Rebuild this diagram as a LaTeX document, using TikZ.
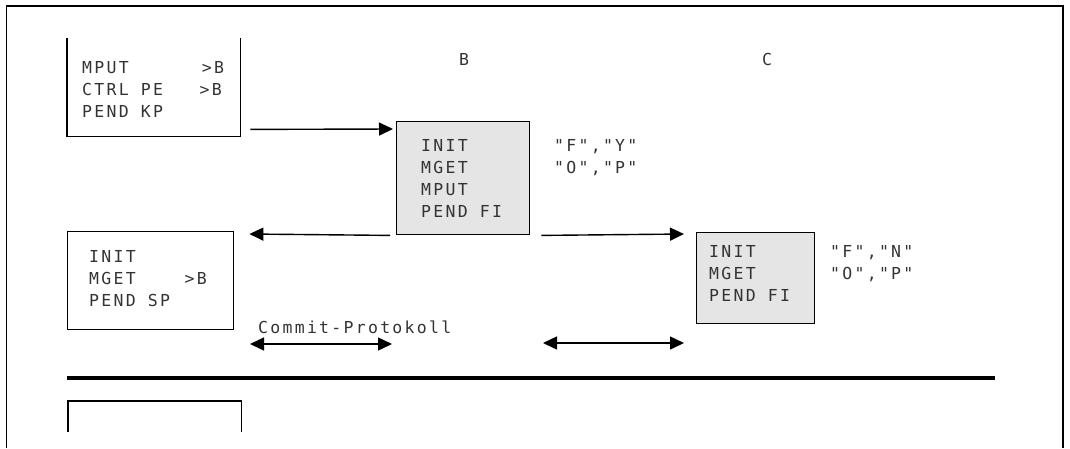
\documentclass[tikz,border=0pt]{standalone}
\usepackage{fontspec}
\usetikzlibrary{arrows.meta}
\newfontfamily\gothic{DejaVu Sans Mono}[LetterSpace=13.8]
% one character cell of the listing font
\newcommand\gap[1]{\hspace*{#1\dimexpr12.2pt\relax}}
\tikzset{
  frame/.style={line width=1.8pt},
  box/.style={draw, line width=1.4pt, inner sep=0pt, anchor=north west},
  openbox/.style={inner sep=0pt, anchor=north west},
  gbox/.style={box, fill=black!10},
  code/.style={inner sep=0pt, anchor=north west, align=left, text=black!80,
    font=\gothic\fontsize{16.5}{22}\selectfont},
  msg/.style={-{Triangle[length=14pt,width=13pt]}, line width=1.4pt},
  twoway/.style={{Triangle[length=14pt,width=13pt]}-{Triangle[length=14pt,width=13pt]}, line width=1.4pt}
}
\begin{document}
\begin{tikzpicture}[x=1pt,y=-1pt]
  \useasboundingbox (0,0) rectangle (1070,448);
  \draw[frame] (6.5,448) -- (6.5,6) -- (1063,6) -- (1063,448);
  % partners
  \node[code, anchor=base west] (labB) at (459,65) {B};
  \node[code, anchor=base west] (labC) at (762,65) {C};
  % program A, first step
  \node[openbox, minimum width=173, minimum height=98] (stepA) at (67,38) {};
  \draw[line width=1.4pt] (stepA.north west) |- (stepA.south east) -- (stepA.north east);
  \node[code] (txtA) at (82,61) {MPUT\gap{6}>B\\CTRL PE\gap{3}>B\\PEND KP};
  % program B
  \node[gbox, minimum width=133, minimum height=113] (procB) at (396,121) {};
  \node[code] (txtB) at (421,139) {INIT\\MGET\\MPUT\\PEND FI};
  \node[code] (infoB) at (554,139) {"F","Y"\\"O","P"};
  % program C
  \node[gbox, minimum width=118, minimum height=91] (procC) at (696,232) {};
  \node[code] (txtC) at (709,245) {INIT\\MGET\\PEND FI};
  \node[code] (infoC) at (830,245) {"F","N"\\"O","P"};
  % program A, second step
  \node[box, minimum width=166, minimum height=98] (stepA2) at (67,231) {};
  \node[code] (txtA2) at (89,250) {INIT\\MGET\gap{4}>B\\PEND SP};
  % program A, next step
  \node[openbox, minimum width=173, minimum height=31] (stepA3) at (68,401) {};
  \draw[line width=1.4pt] (stepA3.south west) |- (stepA3.north east) -- (stepA3.south east);
  % messages
  \draw[msg] ([shift={(10,-7)}]stepA.south east) -- ([shift={(-3,8)}]procB.north west);
  \draw[msg] ([xshift=-6]procB.south west) -- ([shift={(15,3)}]stepA2.north east);
  \draw[msg] ([xshift=11]procB.south east) -- ([shift={(-12,2)}]procC.north west);
  % commit protocol
  \node[code, anchor=base west] (commit) at (258,333) {Commit-Protokoll};
  \coordinate (c1) at (250,344); \coordinate (c2) at (392,344);
  \coordinate (c3) at (543,343); \coordinate (c4) at (684,343);
  \draw[twoway] (c1) -- (c2);
  \draw[twoway] (c3) -- (c4);
  \coordinate (s1) at (67,378); \coordinate (s2) at (995,378);
  \draw[line width=4pt] (s1) -- (s2);
\end{tikzpicture}
\end{document}
